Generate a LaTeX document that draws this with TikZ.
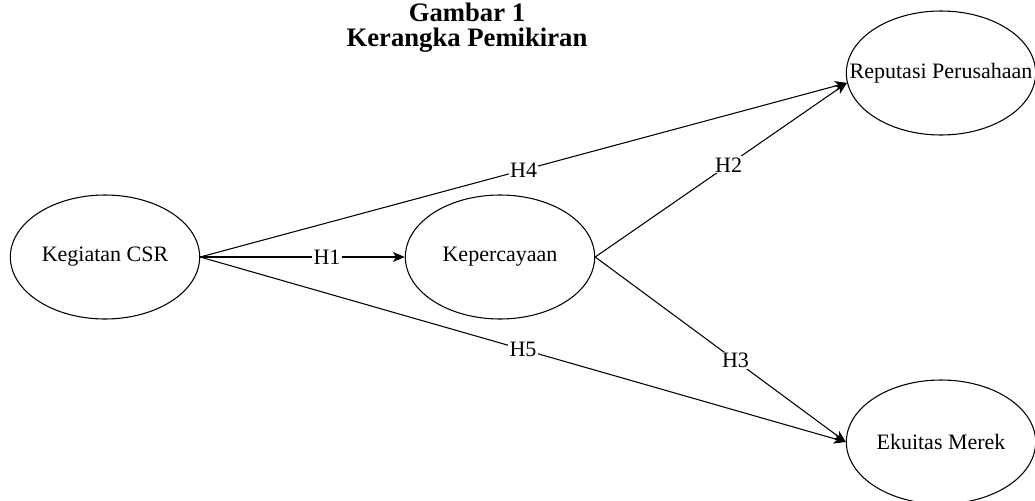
\documentclass[tikz,border=0pt]{standalone}
\usepackage{fontspec}
\setmainfont{Liberation Serif}
\usetikzlibrary{arrows.meta}
\usetikzlibrary{shapes.geometric}

\begin{document}
\begin{tikzpicture}[x=0.75pt,y=-0.75pt,every node/.style={font=\fontsize{16.5}{19}\selectfont},
  var/.style={draw,ellipse,line width=0.8pt,minimum width=142pt,minimum height=93pt,inner sep=0pt},
  hyp/.style={draw,line width=0.8pt,-{Stealth[length=9pt,width=7.5pt,inset=2.5pt]}},
  lbl/.style={fill=white,inner sep=1pt}]
  \useasboundingbox (0,0) rectangle (1035,500);

  % judul
  \node[align=center,font=\fontsize{20}{19}\selectfont\bfseries] (judul) at (467,28) {Gambar 1\\Kerangka Pemikiran};

  % variabel
  \node[var] (csr) at (105,257) {Kegiatan CSR};
  \node[var] (kep) at (500,257) {Kepercayaan};
  \node[var] (rep) at (941,73) {\makebox[0pt]{Reputasi Perusahaan}};
  \node[var] (ek) at (941,442) {Ekuitas Merek};

  % hipotesis
  \draw[hyp] (csr.east) -- node[lbl,pos=0.62] (h1) {H1} (kep.west);
  \draw[hyp] (kep.east) -- node[lbl,pos=0.53] (h2) {H2} (rep.186);
  \draw[hyp] (kep.east) -- node[lbl,pos=0.56] (h3) {H3} (ek.west);
  \draw[hyp] (csr.east) -- node[lbl,pos=0.5] (h4) {H4} (rep.186);
  \draw[hyp] (csr.east) -- node[lbl,pos=0.5] (h5) {H5} (ek.west);
\end{tikzpicture}
\end{document}
